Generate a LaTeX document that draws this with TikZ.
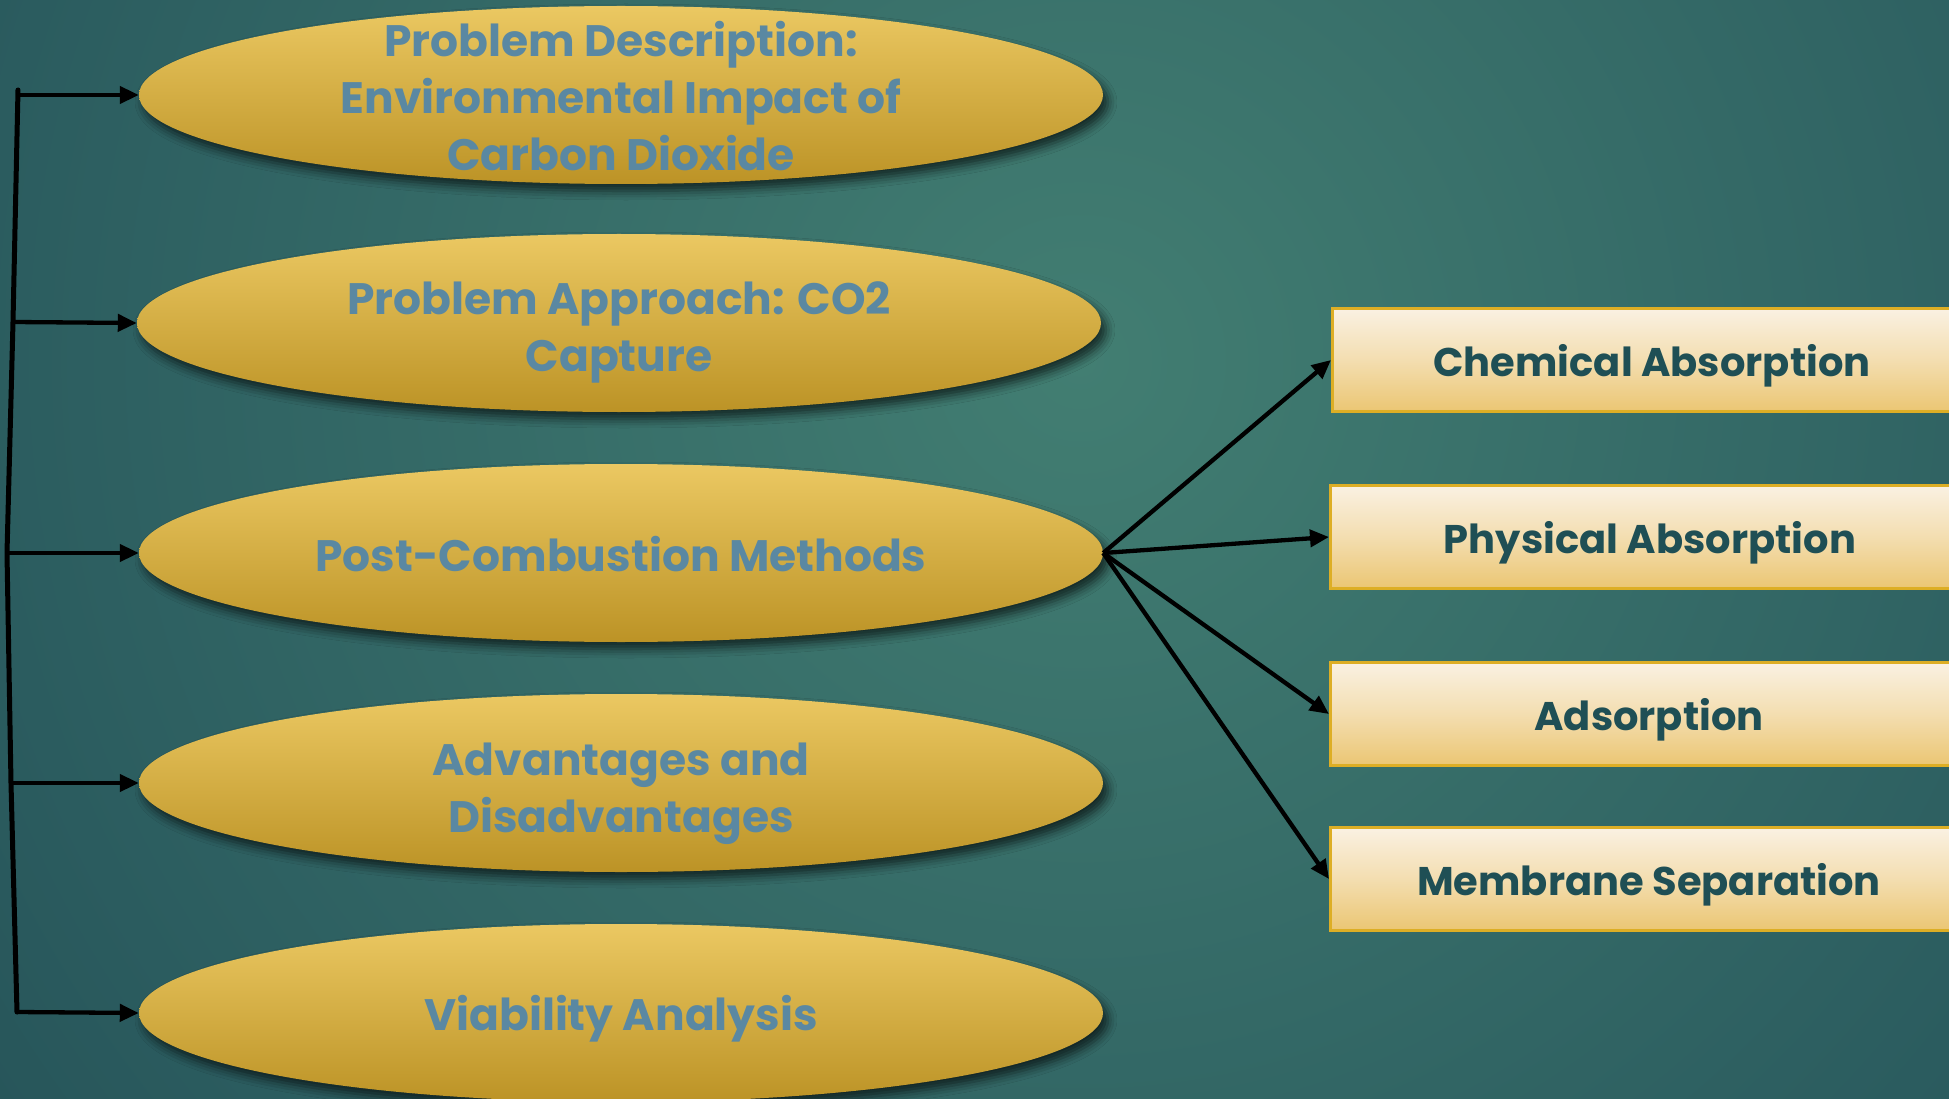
\documentclass[tikz,border=0pt]{standalone}
\usepackage{fontspec}
\setmainfont{Poppins}
\usetikzlibrary{arrows.meta,shapes.geometric,shadows.blur}

\definecolor{bgin}{HTML}{427E72}
\definecolor{bgmid}{HTML}{2B5C5F}
\definecolor{bgout}{HTML}{12333F}
\definecolor{ovtop}{HTML}{EBC862}
\definecolor{ovbot}{HTML}{BC9326}
\definecolor{ovink}{HTML}{5A88A2}
\definecolor{boxtop}{HTML}{FAF1E2}
\definecolor{boxbot}{HTML}{EBC673}
\definecolor{boxline}{HTML}{DDAE25}
\definecolor{boxink}{HTML}{1F4F55}

\pgfdeclareradialshading{bgglow}{\pgfpoint{0bp}{0bp}}{%
  color(0bp)=(bgin); color(11bp)=(bgmid); color(25bp)=(bgout); color(50bp)=(bgout)}

\begin{document}
\begin{tikzpicture}[x=1pt,y=-1pt,
  oval/.style={ellipse, minimum width=964pt, minimum height=178pt, inner sep=0pt,
    top color=ovtop, bottom color=ovbot,
    blur shadow={shadow xshift=5pt, shadow yshift=-7pt, shadow blur radius=9pt, shadow opacity=65}},
  ovtext/.style={text=ovink, font=\fontsize{44}{57}\selectfont\bfseries, align=center},
  methodbox/.style={rectangle, anchor=west, minimum width=640pt, minimum height=103pt,
    draw=boxline, line width=2.5pt, top color=boxtop, bottom color=boxbot, middle color=boxtop!55!boxbot},
  boxtext/.style={text=boxink, font=\fontsize{40}{50}\selectfont\bfseries},
  link/.style={line width=4.3pt, -{Triangle[length=19pt,width=17pt]}},
  trunk/.style={line width=5pt, line cap=round, line join=round}]

\useasboundingbox (0,0) rectangle (1949,1099);
\begin{scope}
  \clip (0,0) rectangle (1949,1099);
  \shade[shading=bgglow] (1080,360) circle[radius=2500];
\end{scope}

% topic ellipses
\node[oval] (e1) at (621,95) {};
\node[oval] (e2) at (619,323) {};
\node[oval] (e3) at (621,553) {};
\node[oval] (e4) at (621,783) {};
\node[oval] (e5) at (621,1013) {};

\node[ovtext] (t1) at (621,96) {Problem Description:\\Environmental Impact of\\Carbon Dioxide};
\node[ovtext] (t2) at (619,332) {Problem Approach: CO2\\Capture};
\node[ovtext] (t3) at (621,554) {Post-Combustion Methods};
\node[ovtext] (t4) at (621,794) {Advantages and\\Disadvantages};
\node[ovtext] (t5) at (621,1019) {Viability Analysis};

% capture method boxes
\node[methodbox] (b1) at (1331,360) {};
\node[methodbox] (b2) at (1329,537) {};
\node[methodbox] (b3) at (1329,714) {};
\node[methodbox] (b4) at (1329,879) {};

\node[boxtext] at (1652,366) {Chemical Absorption};
\node[boxtext] at (1650,543) {Physical Absorption};
\node[boxtext] at (1649,720) {Adsorption};
\node[boxtext] at (1649,885) {Membrane Separation};

% left trunk
\coordinate (k1) at (18,90);
\coordinate (k2) at (13,322);
\coordinate (k3) at (7,553);
\coordinate (k4) at (11,783);
\coordinate (k5) at (17,1012);
\draw[trunk] (k1) -- (k2) -- (k3) -- (k4) -- (k5);

\draw[link] (k1 |- e1.west) -- (e1.west);
\draw[link] (k2) -- (e2.west);
\draw[link] (k3) -- (e3.west);
\draw[link] (k4) -- (e4.west);
\draw[link] (k5) -- (e5.west);

% fan-out to methods
\draw[link] (e3.east) -- (b1.west);
\draw[link] (e3.east) -- (b2.west);
\draw[link] (e3.east) -- (b3.west);
\draw[link] (e3.east) -- (b4.west);
\end{tikzpicture}
\end{document}
